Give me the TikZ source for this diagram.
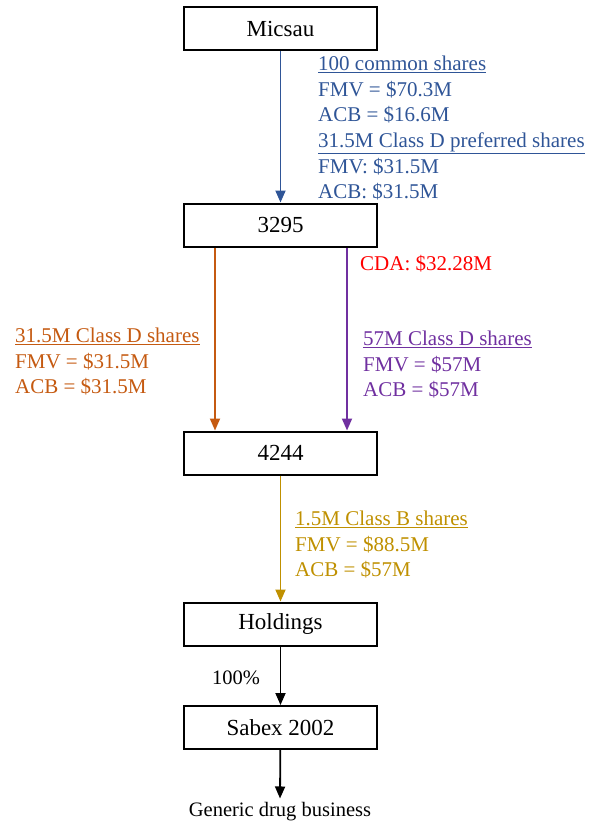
\documentclass[tikz,border=0pt]{standalone}
\usepackage{fontspec}
\setmainfont{Liberation Serif}
\usetikzlibrary{arrows.meta}

\definecolor{shareblue}{RGB}{47,85,151}
\definecolor{shareorange}{RGB}{197,90,17}
\definecolor{sharepurple}{RGB}{112,48,160}
\definecolor{sharegold}{RGB}{191,144,0}

\begin{document}
\begin{tikzpicture}[x=1pt,y=-1pt,
  box/.style={draw,line width=2pt,minimum width=193pt,minimum height=43pt,inner sep=0pt,font=\fontsize{23}{27}\selectfont},
  lbl/.style={anchor=north west,align=left,inner sep=0pt,font=\fontsize{21}{25.6}\selectfont},
  arr/.style={line width=1.8pt,-{Triangle[width=10pt,length=12pt]}}]

  \useasboundingbox (0,0) rectangle (592,824);

  % Specification of nodes (position, etc.)
  \node[box] (micsau) at (280.5,29) {Micsau};
  \node[box] (c3295) at (280.5,225) {3295};
  \node[box] (c4244) at (280.5,453) {4244};
  \node[box] (hold) at (280.5,624) {Holdings};
  \node[box] (sabex) at (280.5,727.5) {Sabex 2002};
  \node[inner sep=0pt,font=\fontsize{20.5}{24}\selectfont] (drug) at (280,812) {Generic drug business};

  % labels of the transfers
  \node[lbl,text=shareblue] (lblue) at (318,56) {\underline{100 common shares}\\FMV = \$70.3M\\ACB = \$16.6M\\\underline{31.5M Class D preferred shares}\\FMV: \$31.5M\\ACB: \$31.5M};
  \node[lbl,text=red,anchor=west] (lcda) at (360,264) {CDA: \$32.28M};
  \node[lbl,text=shareorange] (lorange) at (15,328) {\underline{31.5M Class D shares}\\FMV = \$31.5M\\ACB = \$31.5M};
  \node[lbl,text=sharepurple] (lpurple) at (363,331) {\underline{57M Class D shares}\\FMV = \$57M\\ACB = \$57M};
  \node[lbl,text=sharegold] (lgold) at (295,511) {\underline{1.5M Class B shares}\\FMV = \$88.5M\\ACB = \$57M};
  \node[inner sep=0pt,font=\fontsize{20.5}{24}\selectfont] (lpct) at (236,678) {100\%};

  \begin{scope}[arr]
    \draw[shareblue] (micsau) to (c3295);
    \draw[shareorange] (c3295.south -| 215,0) to (c4244.north -| 215,0);
    \draw[sharepurple] (c3295.south -| 347,0) to (c4244.north -| 347,0);
    \draw[sharegold] (c4244) to (hold);
    \draw (hold) to (sabex);
    \draw (sabex) to ([yshift=4pt]drug.north);
  \end{scope}

\end{tikzpicture}
\end{document}
